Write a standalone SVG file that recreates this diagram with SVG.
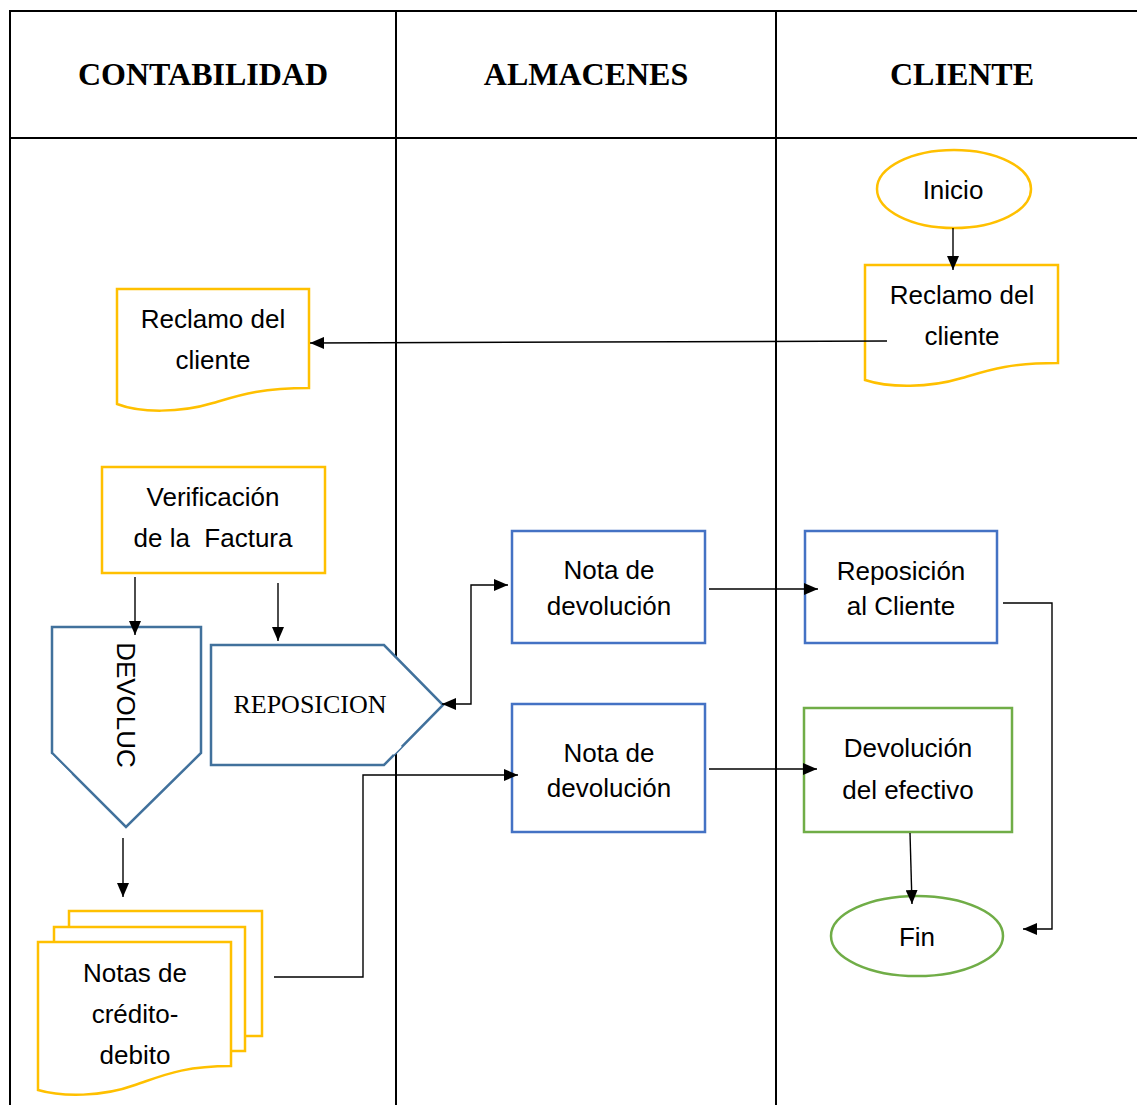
<svg xmlns="http://www.w3.org/2000/svg" width="1137" height="1105" viewBox="0 0 1137 1105">
  <defs>
    <marker id="arrow" viewBox="0 0 14 12" refX="14" refY="6" markerWidth="14" markerHeight="12" markerUnits="userSpaceOnUse" orient="auto-start-reverse">
      <path d="M0,0 L14,6 L0,12 Z" fill="#000"/>
    </marker>
    <style>
      .grid { stroke: #000; stroke-width: 2; fill: none; }
      .head { font-family: "Liberation Serif", "Times New Roman", serif; font-weight: bold; font-size: 32px; text-anchor: middle; fill: #000; }
      .lbl { font-family: "Liberation Sans", Arial, sans-serif; font-size: 26px; text-anchor: middle; fill: #000; }
      .serif { font-family: "Liberation Serif", "Times New Roman", serif; font-size: 26px; text-anchor: middle; fill: #000; }
      .gold { fill: #fff; stroke: #FFC000; stroke-width: 2.5; }
      .blue { fill: #fff; stroke: #4472C4; stroke-width: 2.5; }
      .steel { fill: #fff; stroke: #41719C; stroke-width: 2.5; }
      .green { fill: #fff; stroke: #70AD47; stroke-width: 2.5; }
      .conn { fill: none; stroke: #000; stroke-width: 1.4; }
    </style>
  </defs>

  <rect width="1137" height="1105" fill="#fff"/>

  <!-- swimlane table -->
  <g id="lanes">
    <line class="grid" x1="10" y1="11" x2="1137" y2="11"/>
    <line class="grid" x1="10" y1="138" x2="1137" y2="138"/>
    <line class="grid" x1="10" y1="10" x2="10" y2="1105"/>
    <line class="grid" x1="396" y1="11" x2="396" y2="1105"/>
    <line class="grid" x1="776" y1="11" x2="776" y2="1105"/>
    <text class="head" x="203" y="85">CONTABILIDAD</text>
    <text class="head" x="586" y="85">ALMACENES</text>
    <text class="head" x="962" y="85">CLIENTE</text>
  </g>

  <!-- nodes -->
  <g id="inicio">
    <ellipse class="gold" cx="954" cy="189" rx="77" ry="39"/>
    <text class="lbl" x="953" y="199">Inicio</text>
  </g>

  <g id="reclamo-cliente">
    <path class="gold" d="M865,265 H1058 V363 C1009,363 989,370 962,378 C929,388 889,388 865,380 Z"/>
    <text class="lbl" x="962" y="304">Reclamo del</text>
    <text class="lbl" x="962" y="345">cliente</text>
  </g>

  <g id="reclamo-contabilidad">
    <path class="gold" d="M117,289 H309 V388 C260,388 240,395 213,403 C180,413 140,413 117,404 Z"/>
    <text class="lbl" x="213" y="328">Reclamo del</text>
    <text class="lbl" x="213" y="369">cliente</text>
  </g>

  <g id="verificacion">
    <rect class="gold" x="102" y="467" width="223" height="106"/>
    <text class="lbl" x="213" y="506">Verificación</text>
    <text class="lbl" x="213" y="547" xml:space="preserve">de la  Factura</text>
  </g>

  <g id="devoluc">
    <path class="steel" d="M52,627 H201 V753 L126,827 L52,753 Z"/>
    <!-- small break in the outline at the lower-left corner -->
    <line x1="50" y1="756" x2="70" y2="776" stroke="#fff" stroke-width="5"/>
    <text class="lbl" transform="translate(117,705) rotate(90)" x="0" y="0">DEVOLUC</text>
  </g>

  <g id="reposicion">
    <path class="steel" d="M211,645 H384 L443,705 L384,765 H211 Z"/>
    <!-- break in the lower diagonal where it meets the lane line -->
    <line x1="392" y1="753" x2="400" y2="745" stroke="#fff" stroke-width="5"/>
    <text class="serif" x="310" y="713">REPOSICION</text>
  </g>

  <g id="notas">
    <rect class="gold" x="69" y="911" width="193" height="125"/>
    <rect class="gold" x="54" y="927" width="191" height="124"/>
    <path class="gold" d="M38,942 H231 V1066 C182,1066 162,1076 135,1085 C102,1097 62,1097 38,1090 Z"/>
    <text class="lbl" x="135" y="982">Notas de</text>
    <text class="lbl" x="135" y="1023">crédito-</text>
    <text class="lbl" x="135" y="1064">debito</text>
  </g>

  <g id="nota-1">
    <rect class="blue" x="512" y="531" width="193" height="112"/>
    <text class="lbl" x="609" y="579">Nota de</text>
    <text class="lbl" x="609" y="615">devolución</text>
  </g>

  <g id="nota-2">
    <rect class="blue" x="512" y="704" width="193" height="128"/>
    <text class="lbl" x="609" y="762">Nota de</text>
    <text class="lbl" x="609" y="797">devolución</text>
  </g>

  <g id="reposicion-cliente">
    <rect class="blue" x="805" y="531" width="192" height="112"/>
    <text class="lbl" x="901" y="580">Reposición</text>
    <text class="lbl" x="901" y="615">al Cliente</text>
  </g>

  <g id="devolucion-efectivo">
    <rect class="green" x="804" y="708" width="208" height="124"/>
    <text class="lbl" x="908" y="757">Devolución</text>
    <text class="lbl" x="908" y="799">del efectivo</text>
  </g>

  <g id="fin">
    <ellipse class="green" cx="917" cy="936" rx="86" ry="40"/>
    <text class="lbl" x="917" y="946">Fin</text>
  </g>

  <!-- connectors -->
  <g id="connectors">
    <line class="conn" x1="953" y1="228" x2="953" y2="270" marker-end="url(#arrow)"/>
    <line class="conn" x1="887" y1="341" x2="310" y2="343" marker-end="url(#arrow)"/>
    <line class="conn" x1="135" y1="577" x2="135" y2="635" marker-end="url(#arrow)"/>
    <line class="conn" x1="278" y1="583" x2="278" y2="641" marker-end="url(#arrow)"/>
    <line class="conn" x1="123" y1="838" x2="123" y2="897" marker-end="url(#arrow)"/>
    <path class="conn" d="M442,704 H471 V585 H508" marker-start="url(#arrow)" marker-end="url(#arrow)"/>
    <path class="conn" d="M274,977 H363 V775 H518" marker-end="url(#arrow)"/>
    <line class="conn" x1="709" y1="589" x2="818" y2="589" marker-end="url(#arrow)"/>
    <line class="conn" x1="709" y1="769" x2="817" y2="769" marker-end="url(#arrow)"/>
    <line class="conn" x1="910" y1="833" x2="912" y2="904" marker-end="url(#arrow)"/>
    <path class="conn" d="M1003,603 H1052 V929 H1023" marker-end="url(#arrow)"/>
  </g>
</svg>
